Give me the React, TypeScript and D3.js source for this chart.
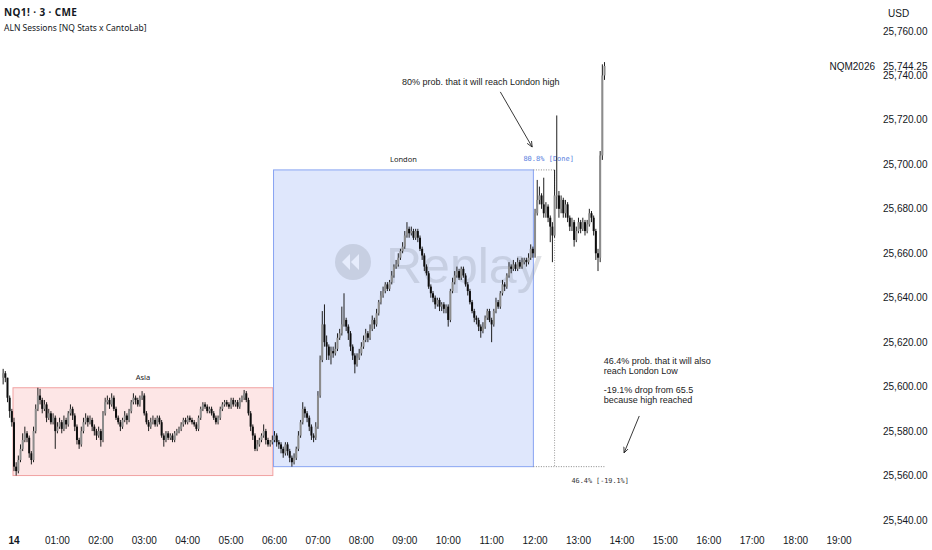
import React from "react";
import * as d3 from "d3";

// ---------- DATA ----------
const BASE = 25500;
const FIRST_CANDLE_MIN = -15; // first 3-minute candle at 23:45 of the previous day
const CANDLE_MIN = 3;
const FIRST_OPEN = 104;

// closes / highs / lows of each 3-minute candle, in points above BASE
const closes = [
  106, 104, 95, 89, 84, 64, 62, 67, 72, 76, 79, 77, 70, 67, 80, 90, 96, 94, 90, 92,
  86, 88, 84, 86, 80, 82, 84, 81, 85, 83, 88, 90, 87, 82, 76, 74, 80, 84, 86, 84,
  85, 82, 80, 78, 80, 76, 88, 93, 94, 92, 95, 90, 86, 84, 82, 85, 87, 85, 89, 93,
  95, 94, 92, 95, 96, 88, 84, 82, 84, 85, 83, 86, 84, 78, 76, 79, 77, 78, 76, 79,
  80, 81, 83, 85, 84, 86, 85, 84, 83, 81, 86, 90, 92, 91, 89, 90, 88, 86, 84, 86,
  90, 92, 93, 92, 91, 94, 92, 93, 91, 94, 95, 97, 94, 88, 82, 78, 72, 74, 76, 78,
  80, 76, 74, 75, 76, 78, 75, 74, 72, 70, 74, 71, 68, 66, 68, 72, 78, 84, 90, 88,
  86, 82, 78, 77, 82, 96, 112, 128, 120, 118, 114, 116, 115, 117, 122, 124, 128, 130, 127, 124,
  118, 114, 110, 113, 115, 118, 121, 124, 122, 126, 130, 128, 133, 138, 141, 143, 146, 144, 147, 150,
  154, 155, 158, 161, 163, 168, 171, 169, 170, 167, 170, 167, 162, 159, 154, 151, 145, 142, 140, 137,
  139, 136, 137, 135, 136, 130, 143, 147, 150, 152, 149, 153, 150, 146, 143, 138, 134, 131, 130, 127,
  125, 127, 131, 134, 130, 128, 134, 138, 136, 142, 146, 145, 150, 154, 153, 155, 153, 156, 154, 156,
  157, 156, 158, 162, 160, 178, 184, 186, 182, 178, 181, 176, 172, 168, 186, 186, 180, 184, 178, 182,
  176, 172, 174, 166, 170, 174, 171, 174, 170, 173, 178, 176, 170, 160, 158, 204, 240, 244.25,
];
const highs = [
  108, 107, 104, 96, 90, 86, 66, 69, 74, 79, 82, 80, 78, 71, 82, 92, 99.5, 99, 95, 94,
  93, 90, 89, 88, 87, 84, 86, 85, 87, 86, 89, 92, 91, 88, 83, 77, 82, 86, 88, 87,
  87, 86, 83, 81, 82, 81, 89, 95, 96, 95, 97, 96, 91, 87, 85, 86, 89, 88, 90, 94,
  97, 96, 95, 96, 98, 97, 89, 85, 86, 87, 86, 87, 87, 85, 79, 80, 80, 79, 79, 80,
  81, 82, 84, 86, 86, 87, 87, 86, 85, 84, 87, 91, 93, 93, 92, 91, 91, 89, 87, 87,
  91, 93, 94, 94, 93, 95, 95, 94, 94, 95, 96, 98.5, 98, 95, 89, 83, 79, 76, 77, 79,
  83, 81, 77, 76, 78, 80, 79, 76, 75, 73, 75, 75, 72, 69, 70, 73, 80, 85, 93, 91,
  89, 87, 83, 79, 84, 98, 114, 134, 137, 123, 119, 118, 118, 120, 124, 126, 136, 142, 131, 128,
  125, 119, 115, 115, 117, 120, 123, 126, 125, 128, 132, 131, 135, 139, 143, 145, 147, 147, 148, 152,
  155, 157, 160, 162, 165, 170, 174, 172, 172, 171, 171, 171, 168, 163, 160, 155, 152, 146, 143, 141,
  140, 140, 138, 138, 137, 137, 144, 149, 152, 154, 153, 154, 154, 151, 147, 144, 139, 135, 132, 131,
  128, 129, 132, 135, 135, 131, 135, 140, 139, 143, 148, 147, 151, 156, 155, 157, 156, 158, 157, 158,
  158, 158, 160, 164, 163, 180, 193, 190, 187, 194, 183, 182, 177, 174, 197.5, 222, 188, 186, 185, 184,
  183, 177, 176, 175, 172, 176, 175, 176, 175, 175, 180, 179, 177, 171, 162, 206, 245, 246,
];
const lows = [
  101, 102, 93, 86, 82, 62, 60, 61, 66, 71, 75, 75, 68, 65, 66, 79, 89, 92, 88, 89,
  84, 85, 83, 83, 72, 79, 81, 79, 80, 81, 82, 87, 85, 80, 74, 72, 73, 79, 83, 82,
  83, 80, 78, 76, 77, 73, 75, 87, 92, 90, 91, 89, 85, 83, 80, 81, 84, 83, 84, 88,
  92, 92, 91, 91, 94, 87, 83, 80, 81, 83, 82, 82, 83, 77, 73, 75, 76, 76, 75, 75,
  78, 79, 80, 82, 83, 83, 84, 83, 82, 80, 80, 85, 89, 90, 88, 88, 87, 85, 83, 83,
  85, 89, 91, 91, 90, 90, 91, 91, 90, 90, 93, 94, 93, 87, 80, 76, 71, 71, 73, 75,
  77, 74, 73, 73, 74, 75, 73, 72, 70, 68, 69, 69, 66, 64, 65, 67, 71, 77, 83, 86,
  84, 80, 76, 75, 76, 81, 95, 111, 118, 112, 112, 110, 113, 114, 116, 121, 123, 127, 125, 121,
  116, 112, 106, 109, 112, 114, 117, 120, 120, 121, 125, 126, 127, 132, 137, 140, 142, 143, 143, 146,
  149, 153, 154, 157, 160, 162, 167, 167, 168, 166, 166, 165, 161, 157, 152, 150, 144, 140, 138, 135,
  136, 134, 134, 133, 133, 127, 129, 142, 146, 149, 148, 148, 149, 145, 141, 137, 133, 129, 128, 125,
  122, 124, 126, 130, 129, 120, 127, 133, 135, 135, 141, 143, 144, 149, 151, 152, 152, 152, 153, 153,
  155, 154, 155, 157, 158, 158, 177, 182, 180, 176, 176, 174, 165, 156, 167, 180, 176, 178, 176, 176,
  174, 170, 170, 163, 165, 169, 169, 170, 168, 169, 172, 174, 168, 157, 152, 156, 202, 238,
];

// sessions
const sessionNames = ["Asia", "London"];
const sessionStartMin = [0, 360];
const sessionEndMin = [357, 717];
const sessionHigh = [25599.5, 25697.5];
const sessionLow = [25560, 25564];

// axis
const hourTicks = d3.range(0, 20);
const priceTicks = d3.range(25540, 25761, 20);
const lastPrice = 25744.25;
const symbol = "NQM2026";

// levels hit after London
const hitCandleIndex = 254;
const highProbText = "80.8% [Done]";
const lowProbText = "46.4% [-19.1%]";

// ---------- LAYOUT ----------
const W = 932;
const H = 550;

const x = d3.scaleLinear().domain([0, 19 * 60]).range([14, 839]);
const y = d3.scaleLinear().domain([25540, 25760]).range([520, 31]);

const candles = closes.map((c, i) => {
  const open = i === 0 ? FIRST_OPEN : closes[i - 1];
  return {
    t: FIRST_CANDLE_MIN + i * CANDLE_MIN,
    o: BASE + open,
    c: BASE + c,
    h: BASE + highs[i],
    l: BASE + lows[i],
  };
});

const fmt = d3.format(",.2f");
const hourLabel = (h: number) => (h === 0 ? "14" : `${String(h).padStart(2, "0")}:00`);

const sans = "'Liberation Sans', Arial, sans-serif";
const ui = "'Noto Sans', 'Open Sans', sans-serif";
const mono = "'DejaVu Sans Mono', 'Liberation Mono', monospace";

export default function App() {
  const bodyW = 2;
  const hit = candles[hitCandleIndex];
  const londonEndX = x(sessionEndMin[1]) + 0.5;
  const last = candles[candles.length - 1];

  // annotation anchors in data space (minutes, price)
  const arrow1 = { x1: x(672), y1: y(25732.6), x2: x(716), y2: y(25707.8) };
  const arrow2 = { x1: x(864), y1: y(25586.8), x2: x(843), y2: y(25570.2) };

  return (
    <svg
      width={W}
      height={H}
      style={{ position: "absolute", left: 0, top: 0, background: "#fff" }}
    >
      <defs>
        <marker id="ah" viewBox="0 0 10 10" refX="9" refY="5" markerWidth="7" markerHeight="7" orient="auto">
          <path d="M0,1 L9,5 L0,9" fill="none" stroke="#222" strokeWidth="1.3" />
        </marker>
      </defs>
      <rect x={0} y={0} width={W} height={H} fill="#fff" />

      {/* session boxes */}
      {sessionNames.map((name, i) => {
        const x0 = x(sessionStartMin[i]) - 1;
        const x1 = x(sessionEndMin[i]) + 0.5;
        const y0 = y(sessionHigh[i]);
        const y1 = y(sessionLow[i]);
        const isAsia = name === "Asia";
        return (
          <g key={name}>
            <rect
              x={x0}
              y={y0}
              width={x1 - x0}
              height={y1 - y0}
              fill={isAsia ? "#fde6e6" : "#dfe7fc"}
              stroke={isAsia ? "#f1a1a1" : "#88a4f2"}
              strokeWidth={1}
            />
            <text
              x={(x0 + x1) / 2}
              y={y0 - 8}
              textAnchor="middle"
              fontFamily={ui}
              fontSize={7.5}
              fill="#222"
            >
              {name}
            </text>
          </g>
        );
      })}

      {/* watermark */}
      <g opacity={0.24}>
        <circle cx={353} cy={262} r={18} fill="#7d8594" />
        <path d="M350,254 L342,262 L350,270 Z M359,254 L351,262 L359,270 Z" fill="#fff" />
        <text x={386} y={283} fontFamily={sans} fontSize={50} fill="#7d8594">
          Replay
        </text>
      </g>

      {/* London high / low projections */}
      <line
        x1={londonEndX}
        x2={x(hit.t)}
        y1={y(sessionHigh[1])}
        y2={y(sessionHigh[1])}
        stroke="#888"
        strokeDasharray="1,1.5"
      />
      <line
        x1={x(hit.t)}
        x2={x(hit.t)}
        y1={y(sessionHigh[1])}
        y2={y(sessionLow[1])}
        stroke="#999"
        strokeDasharray="1,1.5"
      />
      <line
        x1={londonEndX}
        x2={x(last.t) + 1}
        y1={y(sessionLow[1])}
        y2={y(sessionLow[1])}
        stroke="#888"
        strokeDasharray="1,1.5"
      />
      <text x={londonEndX - 10} y={y(sessionHigh[1]) - 9} fontFamily={mono} fontSize={7} fill="#5a7fe0">
        {highProbText}
      </text>
      <text x={x(last.t) - 33} y={y(sessionLow[1]) + 16} fontFamily={mono} fontSize={6.8} fill="#333">
        {lowProbText}
      </text>

      {/* candles */}
      {candles.map((d, i) => {
        const cx = x(d.t);
        const up = d.c >= d.o;
        const top = y(Math.max(d.o, d.c));
        const bot = y(Math.min(d.o, d.c));
        return (
          <g key={i}>
            <line x1={cx} x2={cx} y1={y(d.h)} y2={y(d.l)} stroke="#1e1e1e" strokeWidth={1} />
            <rect
              x={cx - bodyW / 2}
              y={top}
              width={bodyW}
              height={Math.max(0.9, bot - top)}
              fill={up ? "#8c8c8c" : "#0d0d0d"}
            />
          </g>
        );
      })}

      {/* annotations */}
      <text x={x(536)} y={y(25735.7)} fontFamily={sans} fontSize={9} fill="#222">
        80% prob. that it will reach London high
      </text>
      <line {...arrow1} stroke="#222" strokeWidth={0.9} markerEnd="url(#ah)" />
      <g fontFamily={sans} fontSize={9} fill="#222">
        <text x={x(815)} y={364}>46.4% prob. that it will also</text>
        <text x={x(815)} y={374}>reach London Low</text>
        <text x={x(815)} y={393}>-19.1% drop from 65.5</text>
        <text x={x(815)} y={403}>because high reached</text>
      </g>
      <line {...arrow2} stroke="#222" strokeWidth={0.9} markerEnd="url(#ah)" />

      {/* header */}
      <text x={4} y={16} fontFamily={ui} fontSize={10} fontWeight={700} fill="#131722" letterSpacing={0.4}>
        NQ1! · 3 · CME
      </text>
      <text x={4} y={31} fontFamily={ui} fontSize={8.5} fill="#131722">
        ALN Sessions [NQ Stats x CantoLab]
      </text>

      {/* price axis */}
      <text x={888} y={17} fontFamily={sans} fontSize={10} fill="#131722">
        USD
      </text>
      {priceTicks.map((p) => (
        <text key={p} x={883} y={y(p)} dy="0.35em" fontFamily={sans} fontSize={10} fill="#131722">
          {fmt(p)}
        </text>
      ))}
      <rect x={880} y={y(lastPrice) - 6} width={50} height={11} fill="#fff" />
      <text x={883} y={y(lastPrice)} dy="0.35em" fontFamily={sans} fontSize={10} fill="#131722">
        {fmt(lastPrice)}
      </text>
      <text x={875} y={y(lastPrice)} dy="0.35em" textAnchor="end" fontFamily={sans} fontSize={10} fill="#131722">
        {symbol}
      </text>

      {/* time axis */}
      {hourTicks.map((h) => (
        <text
          key={h}
          x={x(h * 60)}
          y={544}
          textAnchor="middle"
          fontFamily={sans}
          fontSize={10}
          fontWeight={h === 0 ? 700 : 400}
          fill="#131722"
        >
          {hourLabel(h)}
        </text>
      ))}
    </svg>
  );
}
